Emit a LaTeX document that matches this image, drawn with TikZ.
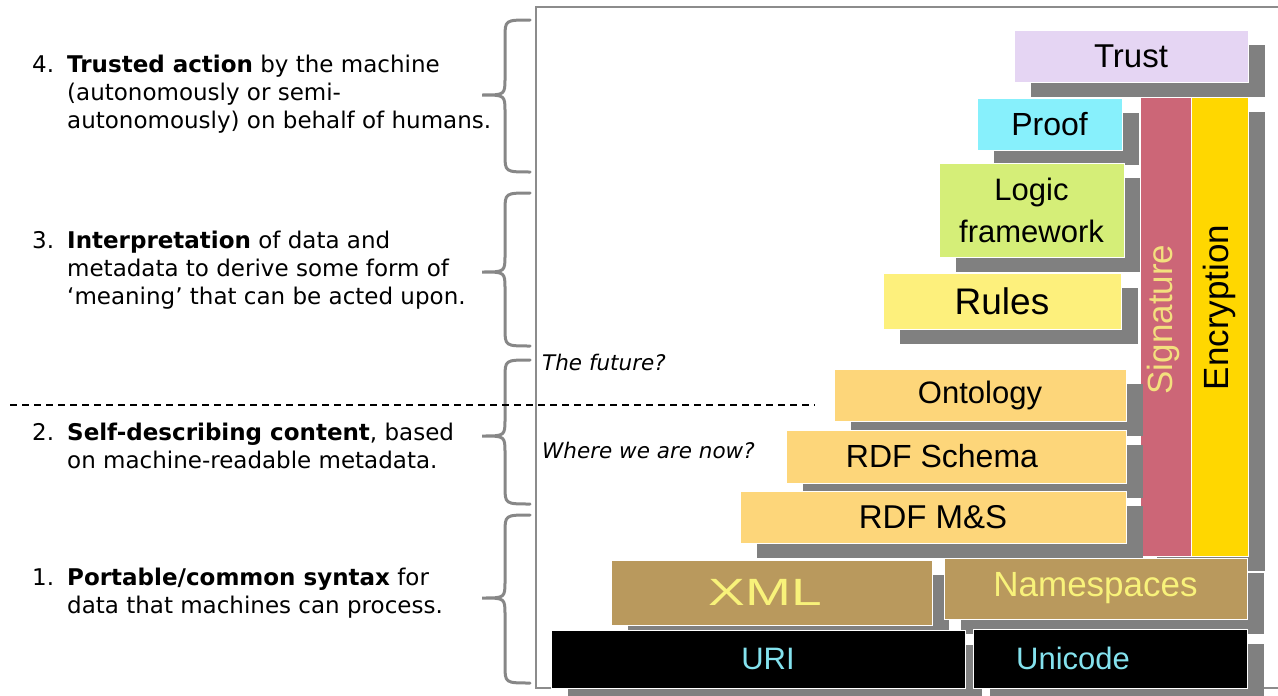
\documentclass[tikz,border=0pt]{standalone}
\usepackage{graphicx}
\usepackage{fontspec}
\usetikzlibrary{shadows,positioning}
\newfontfamily\boxfont{Liberation Sans}
\newfontfamily\notefont{DejaVu Sans}
\definecolor{framegray}{HTML}{8C8C8C}
\definecolor{bracegray}{HTML}{878787}
\definecolor{shadowgray}{HTML}{808080}
\definecolor{trustc}{HTML}{E5D5F3}
\definecolor{proofc}{HTML}{87F0FC}
\definecolor{logicc}{HTML}{D5EE78}
\definecolor{rulesc}{HTML}{FDF07C}
\definecolor{sigc}{HTML}{CC6677}
\definecolor{sigtext}{HTML}{F3E07E}
\definecolor{encc}{HTML}{FFD700}
\definecolor{rdfc}{HTML}{FDD67A}
\definecolor{xmlc}{HTML}{B9995D}
\definecolor{xmltext}{HTML}{F8F27A}
\definecolor{uritext}{HTML}{84E2EE}

\begin{document}
\begin{tikzpicture}[x=1pt,y=-1pt,
  layer/.style={draw=white,line width=0.8pt,inner sep=0pt,
    drop shadow={shadow xshift=17pt,shadow yshift=-15pt,fill=shadowgray,opacity=1}},
  lab/.style={font=\boxfont\fontsize{#1}{#1}\selectfont},
  item/.style={font=\notefont\fontsize{23}{28}\selectfont,inner sep=0pt,anchor=base west,align=left},
  note/.style={font=\notefont\itshape\fontsize{21.5}{26}\selectfont,inner sep=0pt,anchor=base west},
  bracket/.style={draw=bracegray,line width=3pt,line cap=round}]
\useasboundingbox (0,0) rectangle (1278,696);

% frame of the layer cake
\draw[framegray,line width=1.5pt] (1278,7) -- (536,7) -- (536,688) -- (1278,688);

% left hand descriptions (text nodes sit on their last baseline)
\node[item] (n4) at (32,72) {4.};
\node[item] (t4) at (67,128) {\textbf{Trusted action} by the machine\\(autonomously or semi-\\autonomously) on behalf of humans.};
\node[item] (n3) at (32,248) {3.};
\node[item] (t3) at (67,304) {\textbf{Interpretation} of data and\\metadata to derive some form of\\‘meaning’ that can be acted upon.};
\node[item] (n2) at (32,440) {2.};
\node[item] (t2) at (67,468) {\textbf{Self-describing content}, based\\on machine-readable metadata.};
\node[item] (n1) at (32,585) {1.};
\node[item] (t1) at (67,613) {\textbf{Portable/common syntax} for\\data that machines can process.};

% braces
\draw[bracket] (530,20) .. controls (505,20) .. (505,38) -- (505,78) .. controls (505,95) .. (482,95)
  .. controls (505,95) .. (505,112) -- (505,154) .. controls (505,172) .. (530,172);
\draw[bracket] (530,193) .. controls (505,193) .. (505,211) -- (505,255) .. controls (505,272) .. (482,272)
  .. controls (505,272) .. (505,289) -- (505,328) .. controls (505,346) .. (530,346);
\draw[bracket] (530,360) .. controls (505,360) .. (505,378) -- (505,419) .. controls (505,436) .. (482,436)
  .. controls (505,436) .. (505,453) -- (505,486) .. controls (505,504) .. (530,504);
\draw[bracket] (530,515) .. controls (505,515) .. (505,533) -- (505,581) .. controls (505,598) .. (482,598)
  .. controls (505,598) .. (505,615) -- (505,665) .. controls (505,683) .. (530,683);

% layers, top to bottom
\node[layer,fill=trustc,minimum width=234pt,minimum height=52pt,lab=33] (trust) at (1131,56) {Trust};
\node[layer,fill=proofc,minimum width=145pt,minimum height=52pt,lab=32] (proof) at (1049.5,124) {Proof};
\node[layer,fill=logicc,minimum width=185pt,minimum height=94pt,align=center,
  font=\boxfont\fontsize{31}{42}\selectfont] (logic) at (1031.5,210) {Logic\\framework};
\node[layer,fill=rulesc,minimum width=238pt,minimum height=56pt,lab=37] (rules) at (1002,301) {Rules};
\node[layer,fill=sigc,minimum width=51pt,minimum height=459pt] (sig) at (1165.5,326.5) {};
\node[layer,fill=encc,minimum width=57pt,minimum height=459pt] (enc) at (1219.5,326.5) {};
\node[rotate=90,lab=35,text=sigtext,inner sep=0pt] (sigl) at ([xshift=-2pt,yshift=7pt]sig.center) {Signature};
\node[rotate=90,lab=35,inner sep=0pt] (encl) at ([yshift=19pt]enc.center) {Encryption};
\node[layer,fill=rdfc,minimum width=292pt,minimum height=52pt,lab=31] (onto) at (980,395) {Ontology};
\node[layer,fill=rdfc,minimum width=340pt,minimum height=53pt,lab=32] (rdfs) at (956,456.5) {\hspace*{-28pt}RDF Schema};
\node[layer,fill=rdfc,minimum width=386pt,minimum height=52pt,lab=33] (rdfms) at (933,517) {RDF M\&S};
\node[layer,fill=xmlc,minimum width=321pt,minimum height=65pt,lab=38,text=xmltext] (xml) at (771.5,592.5) {\hspace*{-12pt}\scalebox{1.45}[1]{XML}};
\node[layer,fill=xmlc,minimum width=303pt,minimum height=61pt,lab=35,text=xmltext] (ns) at (1095.5,588.5) {Namespaces};
\node[layer,fill=black,minimum width=414pt,minimum height=58pt,lab=31,text=uritext] (uri) at (758,659) {\hspace*{20pt}URI};
\node[layer,fill=black,minimum width=274pt,minimum height=59pt,lab=31,text=uritext] (uni) at (1110,658.5) {\hspace*{-74pt}Unicode};

% where we stand
\draw[line width=1.5pt,dash pattern=on 7pt off 5pt] (10,405) -- (815,405);
\node[note] (future) at (542,370) {The future?};
\node[note] (now) at (542,458) {Where we are now?};

\end{tikzpicture}
\end{document}
